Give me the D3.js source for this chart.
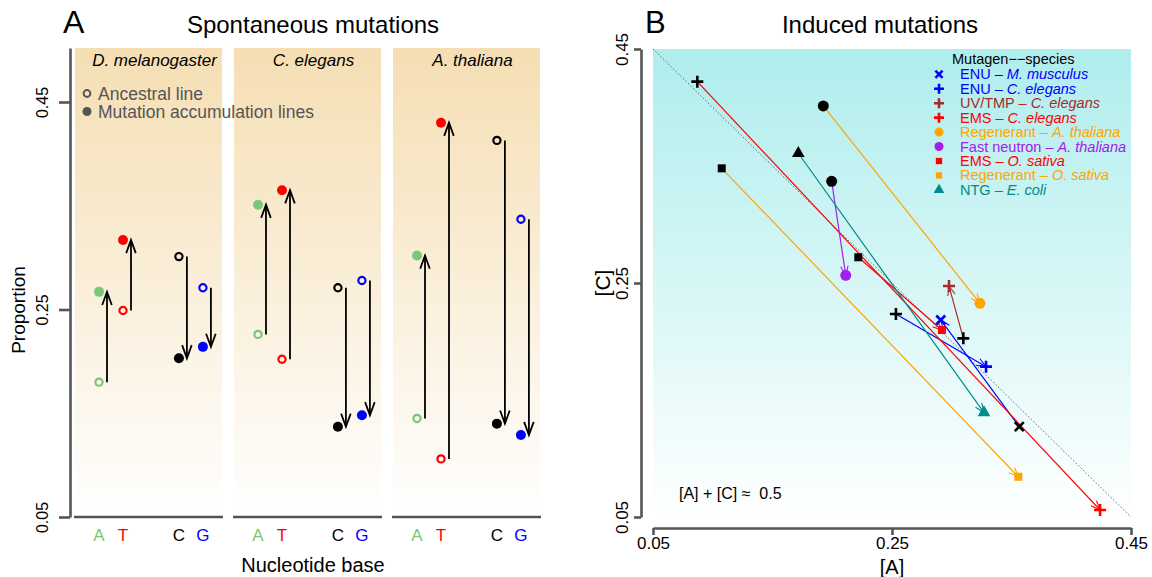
<!DOCTYPE html>
<html>
<head>
<meta charset="utf-8">
<script src="https://cdn.jsdelivr.net/npm/d3@7"></script>
<style>
  html, body { margin: 0; padding: 0; background: #fff; }
  svg { display: block; font-family: "Liberation Sans", Arial, Helvetica, sans-serif; }
</style>
</head>
<body>
<svg id="chart" width="1152" height="577"></svg>
<script>
// ---------------- DATA ----------------
// Panel A: spontaneous mutations
const speciesA = ["D. melanogaster", "C. elegans", "A. thaliana"];
const bases = ["A", "T", "C", "G"];
const ancestralDmel = [0.180, 0.249, 0.301, 0.271];
const ancestralCele = [0.226, 0.202, 0.271, 0.278];
const ancestralAtha = [0.145, 0.106, 0.413, 0.337];
const maDmel = [0.267, 0.317, 0.203, 0.214];
const maCele = [0.351, 0.365, 0.137, 0.148];
const maAtha = [0.302, 0.430, 0.140, 0.129];
const yTicksA = [0.05, 0.25, 0.45];

// Panel B: induced mutations
const mutagens = ["ENU", "ENU", "UV/TMP", "EMS", "Regenerant", "Fast neutron", "EMS", "Regenerant", "NTG"];
const organisms = ["M. musculus", "C. elegans", "C. elegans", "C. elegans", "A. thaliana", "A. thaliana", "O. sativa", "O. sativa", "E. coli"];
const startA = [0.3565, 0.2533, 0.3097, 0.0871, 0.1925, 0.1995, 0.2218, 0.1075, 0.1716];
const startC = [0.1272, 0.2235, 0.2027, 0.4221, 0.4013, 0.3369, 0.2720, 0.3480, 0.3609];
const endA   = [0.2908, 0.3287, 0.2977, 0.4241, 0.3236, 0.2113, 0.2918, 0.3557, 0.3270];
const endC   = [0.2184, 0.1785, 0.2474, 0.0560, 0.2326, 0.2566, 0.2098, 0.0844, 0.1392];
const ticksB = [0.05, 0.25, 0.45];

// ---------------- STYLES ----------------
const baseColors = ["#78C878", "#FF0000", "#000000", "#0000FF"];
const seriesColors = ["#0000FF", "#0000FF", "#A52A2A", "#FF0000", "#FFA500", "#A020F0", "#FF0000", "#FFA500", "#008B8B"];
const seriesShapes = ["x", "plus", "plus", "plus", "circle", "circle", "square", "square", "triangle"];
const axisGray = "#555555";

const svg = d3.select("#chart");
const defs = svg.append("defs");

function vGrad(id, top) {
  const g = defs.append("linearGradient").attr("id", id)
    .attr("x1", 0).attr("y1", 0).attr("x2", 0).attr("y2", 1);
  g.append("stop").attr("offset", "0%").attr("stop-color", top);
  g.append("stop").attr("offset", "100%").attr("stop-color", "#FFFFFF");
}
vGrad("gradA", "#F5DEB3");
vGrad("gradB", "#AFEDED");

function arrowHead(g, x1, y1, x2, y2, len, angDeg, color, width) {
  const ang = Math.atan2(y2 - y1, x2 - x1);
  const a = angDeg * Math.PI / 180;
  const p1 = [x2 - len * Math.cos(ang - a), y2 - len * Math.sin(ang - a)];
  const p2 = [x2 - len * Math.cos(ang + a), y2 - len * Math.sin(ang + a)];
  g.append("path")
    .attr("d", `M${p1[0]},${p1[1]}L${x2},${y2}L${p2[0]},${p2[1]}`)
    .attr("fill", "none").attr("stroke", color).attr("stroke-width", width)
    .attr("stroke-linejoin", "miter");
}

// ================= PANEL A =================
const gA = svg.append("g");
const topA = 48, botA = 517;
const yA = d3.scaleLinear().domain([0.05, 0.45]).range([517, 102]);
const panelBand = d3.scaleBand().domain(speciesA).range([75, 540]).paddingInner(12 / 159);
// position of bases within a panel (A, T close; C, G close)
const basePosUnits = { A: 1, T: 2, C: 4.33, G: 5.33 };
const ancestral = [ancestralDmel, ancestralCele, ancestralAtha];
const accumulated = [maDmel, maCele, maAtha];

speciesA.forEach((sp, i) => {
  const x0 = panelBand(sp), bw = panelBand.bandwidth();
  const xIn = d3.scaleLinear().domain([0, 6.125]).range([x0, x0 + bw]);
  gA.append("rect").attr("x", x0).attr("y", topA).attr("width", bw).attr("height", botA - topA)
    .attr("fill", "url(#gradA)");
  gA.append("line").attr("x1", x0 - 1).attr("x2", x0 + bw + 1).attr("y1", botA).attr("y2", botA)
    .attr("stroke", axisGray).attr("stroke-width", 2.6);
  gA.append("text").attr("x", x0 + bw / 2 + 6).attr("y", 66).attr("text-anchor", "middle")
    .attr("font-size", 17).attr("font-style", "italic").attr("fill", "#000").text(sp);

  bases.forEach((b, j) => {
    const px = xIn(basePosUnits[b]);
    const ax = xIn(basePosUnits[b] + 0.333);
    const ya = yA(ancestral[i][j]), ym = yA(accumulated[i][j]);
    gA.append("line").attr("x1", ax).attr("x2", ax).attr("y1", ya).attr("y2", ym)
      .attr("stroke", "#000").attr("stroke-width", 1.8);
    arrowHead(gA, ax, ya, ax, ym, 14, 20, "#000", 1.8);
    gA.append("circle").attr("cx", px).attr("cy", ya).attr("r", 3.6)
      .attr("fill", "none").attr("stroke", baseColors[j]).attr("stroke-width", 2.2);
    gA.append("circle").attr("cx", px).attr("cy", ym).attr("r", 5)
      .attr("fill", baseColors[j]);
    gA.append("text").attr("x", px).attr("y", 541).attr("text-anchor", "middle")
      .attr("font-size", 17).attr("fill", baseColors[j]).text(b);
  });
});

// y axis A
const yAxisScaleA = d3.scaleLinear().domain([0.05, 0.05 + (botA - topA) / 1037.5]).range([botA, topA]);
const yAxA = gA.append("g").attr("transform", "translate(70,0)")
  .call(d3.axisLeft(yAxisScaleA).tickValues(yTicksA).tickSizeOuter(0).tickSizeInner(11)
    .tickFormat(d3.format(".2f")));
yAxA.select(".domain").attr("stroke", axisGray).attr("stroke-width", 2.6);
yAxA.selectAll(".tick line").attr("stroke", axisGray).attr("stroke-width", 2.6);
yAxA.selectAll(".tick text").attr("transform", "rotate(-90)").attr("x", 0).attr("y", -22)
  .attr("dy", 0).attr("text-anchor", "middle").attr("font-size", 16).attr("fill", "#000");

gA.append("text").attr("transform", "translate(25,310) rotate(-90)").attr("text-anchor", "middle")
  .attr("font-size", 19).text("Proportion");
gA.append("text").attr("x", 313).attr("y", 572).attr("text-anchor", "middle")
  .attr("font-size", 20).text("Nucleotide base");
gA.append("text").attr("x", 313).attr("y", 33).attr("text-anchor", "middle")
  .attr("font-size", 24).text("Spontaneous mutations");
gA.append("text").attr("x", 63).attr("y", 33).attr("font-size", 32).text("A");

// legend A
gA.append("circle").attr("cx", 87).attr("cy", 93.5).attr("r", 3.4)
  .attr("fill", "none").attr("stroke", axisGray).attr("stroke-width", 2);
gA.append("circle").attr("cx", 87).attr("cy", 111.5).attr("r", 4.5).attr("fill", axisGray);
gA.append("text").attr("x", 98).attr("y", 99.5).attr("font-size", 17.5).attr("fill", axisGray).text("Ancestral line");
gA.append("text").attr("x", 98).attr("y", 117.5).attr("font-size", 17.5).attr("fill", axisGray).text("Mutation accumulation lines");

// ================= PANEL B =================
const gB = svg.append("g");
const xB = d3.scaleLinear().domain([0.05, 0.45]).range([653, 1131]);
const yB = d3.scaleLinear().domain([0.05, 0.45]).range([517, 49]);

gB.append("rect").attr("x", xB(0.05)).attr("y", yB(0.45))
  .attr("width", xB(0.45) - xB(0.05)).attr("height", yB(0.05) - yB(0.45))
  .attr("fill", "url(#gradB)");

gB.append("line").attr("x1", xB(0.05)).attr("y1", yB(0.45)).attr("x2", xB(0.45)).attr("y2", yB(0.05))
  .attr("stroke", "#666").attr("stroke-width", 1).attr("stroke-dasharray", "1.5,2");

function drawMarker(g, shape, cx, cy, color) {
  if (shape === "plus") {
    const s = 6;
    g.append("path").attr("d", `M${cx - s},${cy}H${cx + s}M${cx},${cy - s}V${cy + s}`)
      .attr("stroke", color).attr("stroke-width", 2.6).attr("fill", "none");
  } else if (shape === "x") {
    const s = 4.5;
    g.append("path").attr("d", `M${cx - s},${cy - s}L${cx + s},${cy + s}M${cx - s},${cy + s}L${cx + s},${cy - s}`)
      .attr("stroke", color).attr("stroke-width", 2.6).attr("fill", "none");
  } else {
    const type = shape === "circle" ? d3.symbolCircle : shape === "square" ? d3.symbolSquare : d3.symbolTriangle;
    const size = shape === "circle" ? 95 : shape === "square" ? 64 : 70;
    g.append("path").attr("d", d3.symbol().type(type).size(size)())
      .attr("transform", `translate(${cx},${cy})`).attr("fill", color);
  }
}

mutagens.forEach((m, i) => {
  const x1 = xB(startA[i]), y1 = yB(startC[i]), x2 = xB(endA[i]), y2 = yB(endC[i]);
  gB.append("line").attr("x1", x1).attr("y1", y1).attr("x2", x2).attr("y2", y2)
    .attr("stroke", seriesColors[i]).attr("stroke-width", 1.2);
  arrowHead(gB, x1, y1, x2, y2, 10, 22, seriesColors[i], 1.1);
});
mutagens.forEach((m, i) => {
  drawMarker(gB, seriesShapes[i], xB(startA[i]), yB(startC[i]), "#000");
  drawMarker(gB, seriesShapes[i], xB(endA[i]), yB(endC[i]), seriesColors[i]);
});

// axes B
const xAxB = gB.append("g").attr("transform", "translate(0,528)")
  .call(d3.axisBottom(xB).tickValues(ticksB).tickSizeOuter(0).tickSizeInner(7).tickPadding(2)
    .tickFormat(d3.format(".2f")));
xAxB.select(".domain").attr("stroke", axisGray).attr("stroke-width", 2.6);
xAxB.selectAll(".tick line").attr("stroke", axisGray).attr("stroke-width", 2.6);
xAxB.selectAll(".tick text").attr("font-size", 17).attr("fill", "#000");

const yAxB = gB.append("g").attr("transform", "translate(641,0)")
  .call(d3.axisLeft(yB).tickValues(ticksB).tickSizeOuter(0).tickSizeInner(7)
    .tickFormat(d3.format(".2f")));
yAxB.select(".domain").attr("stroke", axisGray).attr("stroke-width", 2.6);
yAxB.selectAll(".tick line").attr("stroke", axisGray).attr("stroke-width", 2.6);
yAxB.selectAll(".tick text").attr("transform", "rotate(-90)").attr("x", 0).attr("y", -13)
  .attr("dy", 0).attr("text-anchor", "middle").attr("font-size", 17).attr("fill", "#000");

gB.append("text").attr("x", xB(0.25)).attr("y", 574).attr("text-anchor", "middle")
  .attr("font-size", 20).text("[A]");
gB.append("text").attr("transform", `translate(610,${yB(0.25)}) rotate(-90)`).attr("text-anchor", "middle")
  .attr("font-size", 21).text("[C]");
gB.append("text").attr("x", 880).attr("y", 33).attr("text-anchor", "middle")
  .attr("font-size", 24).text("Induced mutations");
gB.append("text").attr("x", 645).attr("y", 33).attr("font-size", 31).text("B");
gB.append("text").attr("x", 679).attr("y", 499).attr("font-size", 16).text("[A] + [C] \u2248  0.5")
  .attr("xml:space", "preserve").style("white-space", "pre");

// legend B
const leg = gB.append("g");
leg.append("text").attr("x", 952).attr("y", 64).attr("font-size", 14.5).text("Mutagen\u2212\u2212species");
mutagens.forEach((m, i) => {
  const cy = 74.3 + i * 14.45;
  const c = seriesColors[i];
  if (seriesShapes[i] === "plus") {
    const s = 5;
    leg.append("path").attr("d", `M${939 - s},${cy}H${939 + s}M${939},${cy - s}V${cy + s}`)
      .attr("stroke", c).attr("stroke-width", 2.6);
  } else if (seriesShapes[i] === "x") {
    const s = 3.6;
    leg.append("path").attr("d", `M${939 - s},${cy - s}L${939 + s},${cy + s}M${939 - s},${cy + s}L${939 + s},${cy - s}`)
      .attr("stroke", c).attr("stroke-width", 2.6);
  } else {
    const type = seriesShapes[i] === "circle" ? d3.symbolCircle : seriesShapes[i] === "square" ? d3.symbolSquare : d3.symbolTriangle;
    const size = seriesShapes[i] === "circle" ? 64 : seriesShapes[i] === "square" ? 40 : 50;
    leg.append("path").attr("d", d3.symbol().type(type).size(size)())
      .attr("transform", `translate(939,${cy})`).attr("fill", c);
  }
  const t = leg.append("text").attr("x", 960).attr("y", cy + 5).attr("font-size", 14.5).attr("fill", c);
  t.append("tspan").text(m + " \u2013 ");
  t.append("tspan").attr("font-style", "italic").text(organisms[i]);
});
</script>
</body>
</html>
